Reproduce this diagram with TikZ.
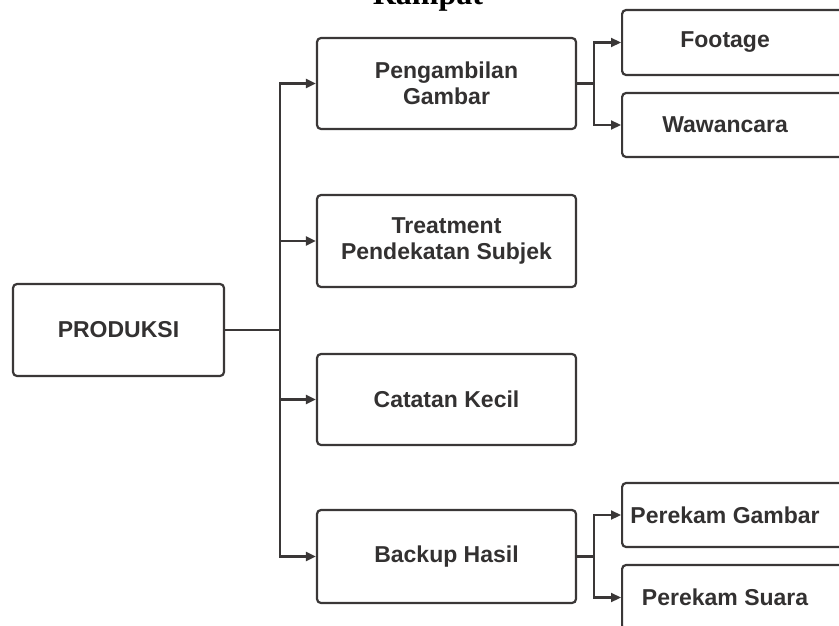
\documentclass[tikz,border=0pt]{standalone}
\usepackage{fontspec}
\setmainfont{Liberation Sans}
\newfontfamily\titlefont{Liberation Serif}
\usetikzlibrary{arrows.meta}
\definecolor{ln}{HTML}{3A3737}
\definecolor{tx}{HTML}{333131}
\tikzset{
  box/.style={draw=ln, line width=2.2bp, rounded corners=4bp, inner sep=0pt,
    font=\bfseries\fontsize{23bp}{26.5bp}\selectfont, text=tx, align=center},
  conn/.style={draw=ln, line width=2.2bp},
  arr/.style={conn, -{Triangle[length=10bp,width=9bp]}},
}
\begin{document}
\begin{tikzpicture}[x=1bp,y=-1bp]
\useasboundingbox (0,0) rectangle (839,626);
\clip (0,0) rectangle (839,626);
\node[anchor=base, font=\titlefont\bfseries\fontsize{32bp}{34bp}\selectfont, text=black] (title) at (428,5) {Rampat};

\node[box, minimum width=211bp, minimum height=92bp] (prod) at (118.5,330) {PRODUKSI};
\node[box, minimum width=259bp, minimum height=91bp] (peng) at (446.5,83.5) {Pengambilan\\Gambar};
\node[box, minimum width=259bp, minimum height=92bp] (treat) at (446.5,241) {Treatment\\Pendekatan Subjek};
\node[box, minimum width=259bp, minimum height=91bp] (cat) at (446.5,399.5) {Catatan Kecil};
\node[box, minimum width=259bp, minimum height=93bp] (back) at (446.5,556.5) {Backup Hasil};

\node[box, anchor=west, minimum height=65bp] (foot) at (621,42.5) {\makebox[206bp]{Footage}\makebox[60bp]{}};
\node[box, anchor=west, minimum height=64bp] (waw) at (621,125) {\makebox[206bp]{Wawancara}\makebox[60bp]{}};
\node[box, anchor=west, minimum height=64bp] (pg) at (621,515) {\makebox[206bp]{Perekam Gambar}\makebox[60bp]{}};
\node[box, anchor=west, minimum height=65bp] (ps) at (621,597.5) {\makebox[206bp]{Perekam Suara}\makebox[60bp]{}};

\coordinate (j1) at (280,330);
\coordinate (j2) at (594,83.5);
\coordinate (j3) at (594,556.5);

\draw[conn] (prod.east) -- (j1);
\draw[arr] (j1) |- (peng.west);
\draw[arr] (j1) |- (treat.west);
\draw[arr] (j1) |- (cat.west);
\draw[arr] (j1) |- (back.west);

\draw[conn] (peng.east) -- (j2);
\draw[arr] (j2) |- (foot.west);
\draw[arr] (j2) |- (waw.west);

\draw[conn] (back.east) -- (j3);
\draw[arr] (j3) |- (pg.west);
\draw[arr] (j3) |- (ps.west);
\end{tikzpicture}
\end{document}
